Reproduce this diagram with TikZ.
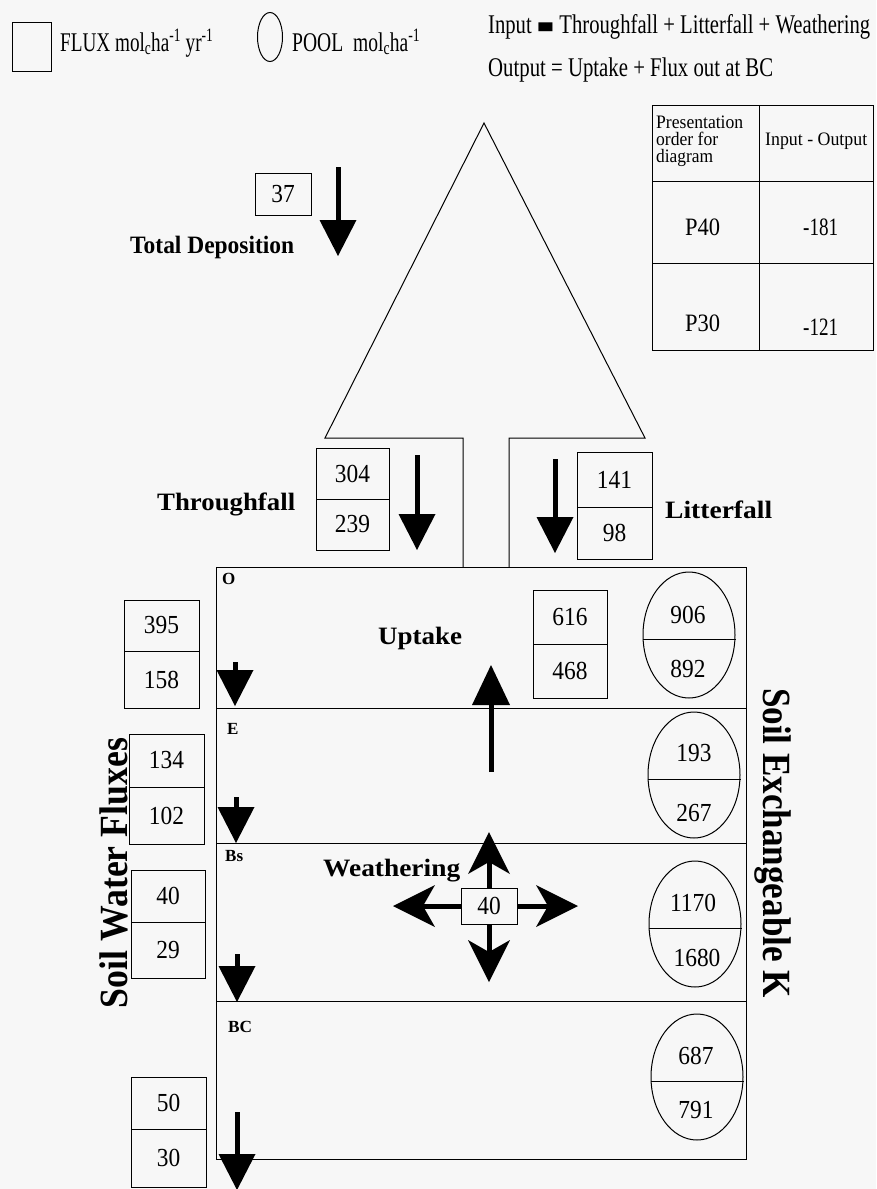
\documentclass[tikz,border=0pt]{standalone}
\usepackage{fontspec}
\usepackage{graphicx}
\setmainfont{Liberation Serif}
\newfontfamily\numf[FakeStretch=0.9]{Liberation Serif}
\newfontfamily\symf{DejaVu Sans}
\usetikzlibrary{arrows.meta,shapes.geometric,calc}
% squeeze or stretch a text horizontally to a given width, keeping its height
\newcommand\hfit[2]{\resizebox{#1}{\height}{#2}}

\begin{document}
\begin{tikzpicture}[x=1pt,y=-1pt,
  thin/.style={line width=1pt},
  cell/.style={draw, line width=1pt, inner sep=0pt, outer sep=0pt, anchor=north west,
    font=\numf\fontsize{26}{30}\selectfont},
  num/.style={inner sep=0pt, font=\numf\fontsize{26}{30}\selectfont},
  pool/.style={draw, ellipse, line width=1pt, minimum width=92pt, minimum height=126pt, inner sep=0pt},
  txt/.style={inner sep=0pt, anchor=base west, font=\fontsize{27}{32}\selectfont},
  small/.style={inner sep=0pt, anchor=base west, font=\fontsize{19}{22}\selectfont},
  blab/.style={inner sep=0pt, anchor=base west, font=\bfseries\fontsize{25}{30}\selectfont},
  layer/.style={inner sep=0pt, anchor=base west, font=\bfseries\fontsize{17}{20}\selectfont},
  vlab/.style={inner sep=0pt, anchor=base, font=\bfseries\fontsize{40}{46}\selectfont},
  bigarrow/.style={line width=5pt, -{Triangle[length=36pt,width=37pt,line width=0pt]}},
  wxarrow/.style={line width=5pt, -{Stealth[length=42pt,width=42pt,inset=12pt,line width=0pt]}}
]
\useasboundingbox (0,0) rectangle (876,1189);
\fill[black!3] (0,0) rectangle (876,1189);

% ---- legend ----
\draw[thin] (12,22) rectangle (51,71);
\node[txt] (fluxlg) at (60,51) {\hfit{153pt}{FLUX mol\textsubscript{c}ha\textsuperscript{-1} yr\textsuperscript{-1}}};
\draw[thin] (270,37) ellipse [x radius=12.5, y radius=24.5];
\node[txt] (poollg) at (292,51) {\hfit{128pt}{POOL\ \ mol\textsubscript{c}ha\textsuperscript{-1}}};

\node[txt] (inputeq) at (488,33) {\hfit{382pt}{Input {\symf\fontsize{24}{24}\selectfont ▬} Throughfall + Litterfall + Weathering}};
\node[txt] (outputeq) at (488,76) {\hfit{285pt}{Output = Uptake + Flux out at BC}};

% ---- balance table ----
\draw[thin] (652,105) rectangle (873,350);
\draw[thin] (759,105) -- (759,350);
\draw[thin] (652,181) -- (873,181);
\draw[thin] (652,263) -- (873,263);
\node[small] (th1) at (656,128) {\hfit{87pt}{Presentation}};
\node[small] (th2) at (656,145) {\hfit{62pt}{order for}};
\node[small] (th3) at (656,162) {\hfit{57pt}{diagram}};
\node[small] (th4) at (765,145) {\hfit{102pt}{Input - Output}};
\node[txt, font=\fontsize{25}{30}\selectfont] (r1a) at (685,235) {\hfit{35pt}{P40}};
\node[txt, font=\fontsize{25}{30}\selectfont] (r1b) at (803,235) {\hfit{35pt}{-181}};
\node[txt, font=\fontsize{25}{30}\selectfont] (r2a) at (685,331) {\hfit{35pt}{P30}};
\node[txt, font=\fontsize{25}{30}\selectfont] (r2b) at (803,335) {\hfit{35pt}{-121}};

% ---- canopy and trunk ----
\draw[thin] (463,567) -- (463,438) -- (325,438) -- (484,123) -- (645,438) -- (509,438) -- (509,567);

% ---- deposition ----
\node[cell, minimum width=56pt, minimum height=42pt] (dep) at (255,173) {37};
\node[blab] (totdep) at (130,253) {\hfit{164pt}{Total Deposition}};
\coordinate (depA) at (338,167);
\coordinate (depB) at (338,256);
\draw[bigarrow] (depA) -- (depB);

% ---- throughfall ----
\node[cell, minimum width=73pt, minimum height=51pt] (tf1) at (316,448) {304};
\node[cell, minimum width=73pt, minimum height=51pt] (tf2) at (316,499) {239};
\node[blab] (thrlab) at (157,510) {\hfit{138pt}{Throughfall}};
\coordinate (tfA) at (417,455);
\coordinate (tfB) at (417,550);
\draw[bigarrow] (tfA) -- (tfB);

% ---- litterfall ----
\node[cell, minimum width=75pt, minimum height=55pt] (lf1) at (577,452) {141};
\node[cell, minimum width=75pt, minimum height=52pt] (lf2) at (577,507) {98};
\node[blab] (litlab) at (665,518) {\hfit{107pt}{Litterfall}};
\coordinate (lfA) at (555,459);
\coordinate (lfB) at (555,553);
\draw[bigarrow] (lfA) -- (lfB);

% ---- soil profile ----
\draw[thin] (216,567) rectangle (746,1159);
\draw[thin] (216,708) -- (746,708);
\draw[thin] (216,843) -- (746,843);
\draw[thin] (216,1001) -- (746,1001);
\node[layer] (lO) at (222,584) {O};
\node[layer] (lE) at (227,734) {E};
\node[layer] (lBs) at (225,861) {Bs};
\node[layer] (lBC) at (228,1032) {\hfit{24pt}{BC}};

% ---- uptake ----
\node[cell, minimum width=74pt, minimum height=54pt] (up1) at (533,590) {616};
\node[cell, minimum width=74pt, minimum height=54pt] (up2) at (533,644) {468};
\node[blab] (uplab) at (378,644) {\hfit{84pt}{Uptake}};
\coordinate (upA) at (491,772);
\coordinate (upB) at (491,665);
\draw[line width=5pt, -{Triangle[length=40pt,width=38pt,line width=0pt]}] (upA) -- (upB);

% ---- soil water fluxes ----
\node[cell, minimum width=75pt, minimum height=51pt] (o1) at (124,600) {395};
\node[cell, minimum width=75pt, minimum height=57pt] (o2) at (124,651) {158};
\node[cell, minimum width=75pt, minimum height=53pt] (e1) at (129,734) {134};
\node[cell, minimum width=75pt, minimum height=57pt] (e2) at (129,787) {102};
\node[cell, minimum width=74pt, minimum height=52pt] (b1) at (131,870) {40};
\node[cell, minimum width=74pt, minimum height=56pt] (b2) at (131,922) {29};
\node[cell, minimum width=75pt, minimum height=52pt] (c1) at (131,1077) {50};
\node[cell, minimum width=75pt, minimum height=58pt] (c2) at (131,1129) {30};

\coordinate (oA) at (235,662);   \coordinate (oB) at (235,706);
\coordinate (eA) at (236,797);   \coordinate (eB) at (236,843);
\coordinate (bA) at (237,954);   \coordinate (bB) at (237,1002);
\coordinate (cA) at (237,1112);  \coordinate (cB) at (237,1190);
\draw[bigarrow] (oA) -- (oB);
\draw[bigarrow] (eA) -- (eB);
\draw[bigarrow] (bA) -- (bB);
\draw[bigarrow] (cA) -- (cB);

\node[vlab, rotate=90] (swf) at (127,873) {\hfit{270pt}{Soil Water Fluxes}};

% ---- weathering ----
\node[cell, minimum width=56pt, minimum height=36pt, fill=black!3] (wx) at (461,888) {40};
\node[blab] (wxlab) at (323,876) {\hfit{137pt}{Weathering}};
\coordinate (wxN) at (489,832);
\coordinate (wxW) at (393,906);
\coordinate (wxE) at (578,906);
\coordinate (wxS) at (489,982);
\draw[wxarrow] (wx.north) -- (wxN);
\draw[wxarrow] (wx.west) -- (wxW);
\draw[wxarrow] (wx.east) -- (wxE);
\draw[wxarrow] (wx.south) -- (wxS);

% ---- exchangeable pools ----
\node[pool] (p1) at (689,635) {};
\node[pool] (p2) at (694,775) {};
\node[pool] (p3) at (695,924) {};
\node[pool] (p4) at (697,1077) {};
\foreach \p in {p1,p2,p3,p4}
  \draw[thin] ($(\p.west)+(0,4)$) -- ($(\p.east)+(0,4)$);
\node[num] (p1a) at (688,615) {906};
\node[num] (p1b) at (688,669) {892};
\node[num] (p2a) at (694,753) {193};
\node[num] (p2b) at (694,813) {267};
\node[num] (p3a) at (693,903) {1170};
\node[num] (p3b) at (697,958) {1680};
\node[num] (p4a) at (696,1056) {687};
\node[num] (p4b) at (696,1110) {791};

\node[vlab, rotate=-90] (sek) at (763,843) {\hfit{310pt}{Soil Exchangeable K}};
\end{tikzpicture}
\end{document}
